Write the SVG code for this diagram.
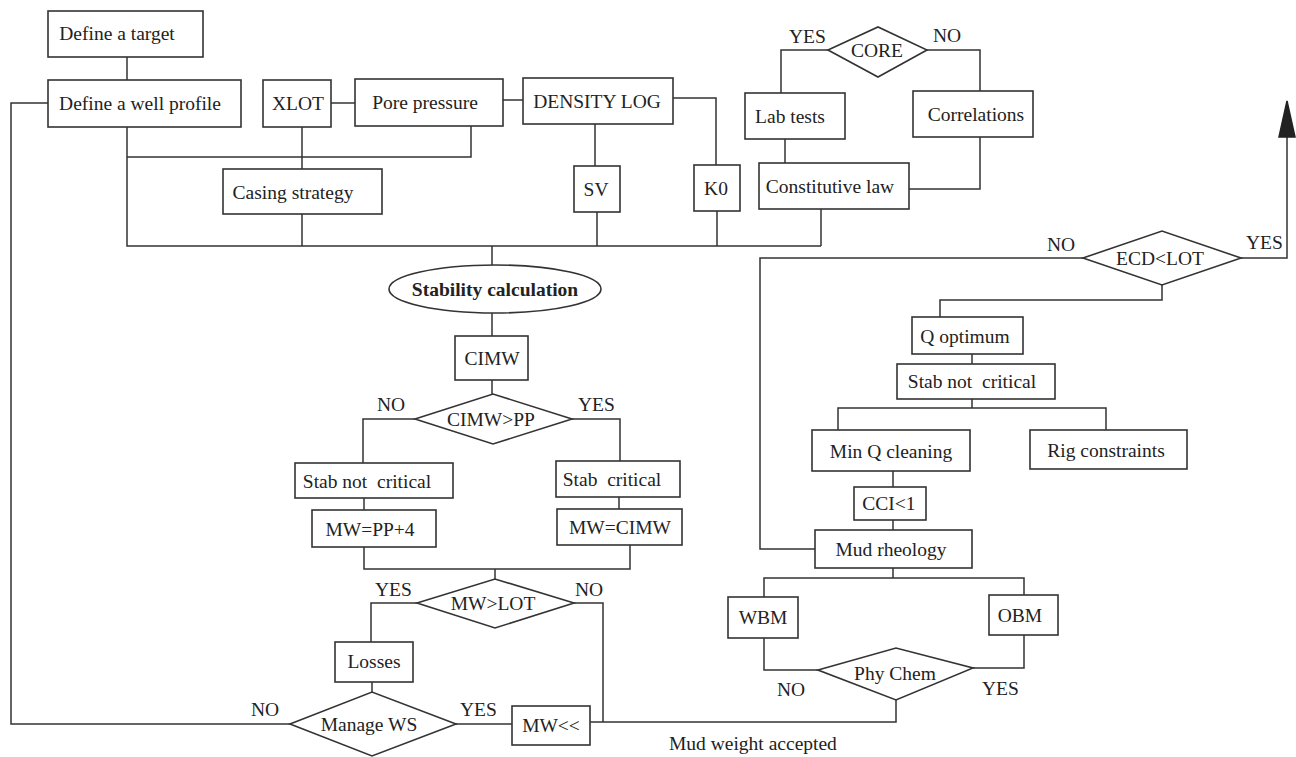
<svg xmlns="http://www.w3.org/2000/svg" width="1296" height="757" viewBox="0 0 1296 757">
<style>
.b{fill:#fff;stroke:#333;stroke-width:1.6}
.c{fill:none;stroke:#333;stroke-width:1.5}
text{font-family:"Liberation Serif","Times New Roman",serif;font-size:19.5px;fill:#222}
.m{text-anchor:middle}
.bold{font-weight:bold}
.p{white-space:pre}
</style>
<rect width="1296" height="757" fill="#fff"/>
<g id="connectors" class="c">
<path d="M127,57V80"/>
<path d="M48,103H11V724H290"/>
<path d="M331,103H355"/>
<path d="M503,100H523"/>
<path d="M127,127V246H821"/>
<path d="M127,157H471V126"/>
<path d="M302,127V169"/>
<path d="M302,214V246"/>
<path d="M595,124V166"/>
<path d="M597,212V246"/>
<path d="M673,98H716V165"/>
<path d="M717,211V246"/>
<path d="M821,209V246"/>
<path d="M828,50H781V93"/>
<path d="M927,50H980V91"/>
<path d="M785,139V163"/>
<path d="M980,137V189H909"/>
<path d="M492,246V265"/>
<path d="M492,313V336"/>
<path d="M492,380V394"/>
<path d="M415,419H363V463"/>
<path d="M572,419H620V461"/>
<path d="M364,498V510"/>
<path d="M619,497V509"/>
<path d="M364,547V569H630V545"/>
<path d="M495,569V579"/>
<path d="M417,603H371V642"/>
<path d="M574,603H603V722"/>
<path d="M372,682V692"/>
<path d="M456,724H512"/>
<path d="M590,722H896V700"/>
<path d="M1241,258H1287V125"/>
<path d="M1083,258H760V549H815"/>
<path d="M1162,285V300H940V317"/>
<path d="M972,354V364"/>
<path d="M972,399V408"/>
<path d="M838,430V408H1106V430"/>
<path d="M893,471V487"/>
<path d="M893,520V530"/>
<path d="M893,568V578"/>
<path d="M764,597V578H1024V595"/>
<path d="M764,638V670H818"/>
<path d="M1024,635V668H973"/>
<path d="M1279,137L1287,101L1295,137Z" fill="#222" stroke="#222"/>
</g>
<g id="n_target"><rect class="b" x="48" y="11" width="155" height="46"/><text class="m" x="117" y="40">Define a target</text></g>
<g id="n_profile"><rect class="b" x="48" y="80" width="193" height="47"/><text class="m" x="140" y="110">Define a well profile</text></g>
<g id="n_xlot"><rect class="b" x="263" y="80" width="68" height="47"/><text class="m" x="298" y="110">XLOT</text></g>
<g id="n_pore"><rect class="b" x="355" y="79" width="148" height="47"/><text class="m" x="425" y="109">Pore pressure</text></g>
<g id="n_density"><rect class="b" x="523" y="78" width="150" height="46"/><text class="m" x="597" y="108">DENSITY LOG</text></g>
<g id="n_core"><polygon class="b" points="828,50 878,27 927,50 878,77"/><text class="m" x="877" y="57">CORE</text></g>
<text x="789" y="43">YES</text>
<text x="933" y="42">NO</text>
<g id="n_lab"><rect class="b" x="745" y="93" width="100" height="46"/><text class="m" x="790" y="123">Lab tests</text></g>
<g id="n_corr"><rect class="b" x="913" y="91" width="120" height="46"/><text class="m" x="976" y="121">Correlations</text></g>
<g id="n_const"><rect class="b" x="759" y="163" width="150" height="46"/><text class="m" x="830" y="193">Constitutive law</text></g>
<g id="n_sv"><rect class="b" x="574" y="166" width="46" height="46"/><text class="m" x="596" y="196">SV</text></g>
<g id="n_k0"><rect class="b" x="694" y="165" width="46" height="46"/><text class="m" x="716" y="195">K0</text></g>
<g id="n_casing"><rect class="b" x="223" y="169" width="159" height="45"/><text class="m" x="293" y="199">Casing strategy</text></g>
<g id="n_stab"><ellipse class="b" cx="495" cy="289" rx="106" ry="24"/><text class="m bold" x="495" y="296">Stability calculation</text></g>
<g id="n_cimw"><rect class="b" x="455" y="336" width="73" height="44"/><text class="m" x="492" y="365">CIMW</text></g>
<g id="n_cimwpp"><polygon class="b" points="415,419 493,394 572,419 493,444"/><text class="m" x="491" y="426">CIMW&gt;PP</text></g>
<text x="377" y="411">NO</text>
<text x="578" y="411">YES</text>
<g id="n_snc1"><rect class="b" x="295" y="463" width="158" height="35"/><text class="m p" x="367" y="488">Stab not  critical</text></g>
<g id="n_sc"><rect class="b" x="556" y="461" width="124" height="36"/><text class="m p" x="612" y="486">Stab  critical</text></g>
<g id="n_mwpp"><rect class="b" x="312" y="510" width="124" height="37"/><text class="m" x="370" y="536">MW=PP+4</text></g>
<g id="n_mwcimw"><rect class="b" x="557" y="509" width="125" height="36"/><text class="m" x="620" y="534">MW=CIMW</text></g>
<g id="n_mwlot"><polygon class="b" points="417,603 495,579 574,603 495,628"/><text class="m" x="493" y="610">MW&gt;LOT</text></g>
<text x="375" y="596">YES</text>
<text x="575" y="596">NO</text>
<g id="n_losses"><rect class="b" x="335" y="642" width="78" height="40"/><text class="m" x="374" y="668">Losses</text></g>
<g id="n_manage"><polygon class="b" points="290,724 372,692 456,724 372,756"/><text class="m" x="369" y="731">Manage WS</text></g>
<text x="251" y="716">NO</text>
<text x="460" y="716">YES</text>
<g id="n_mwll"><rect class="b" x="512" y="706" width="78" height="39"/><text class="m" x="551" y="732">MW&lt;&lt;</text></g>
<text x="669" y="750">Mud weight accepted</text>
<g id="n_ecd"><polygon class="b" points="1083,258 1162,231 1241,258 1162,285"/><text class="m" x="1160" y="265">ECD&lt;LOT</text></g>
<text x="1047" y="251">NO</text>
<text x="1246" y="249">YES</text>
<g id="n_qopt"><rect class="b" x="912" y="317" width="111" height="37"/><text class="m" x="965" y="343">Q optimum</text></g>
<g id="n_snc2"><rect class="b" x="897" y="364" width="158" height="35"/><text class="m p" x="972" y="388">Stab not  critical</text></g>
<g id="n_minq"><rect class="b" x="812" y="430" width="158" height="41"/><text class="m" x="891" y="458">Min Q cleaning</text></g>
<g id="n_rig"><rect class="b" x="1030" y="430" width="157" height="39"/><text class="m" x="1106" y="457">Rig constraints</text></g>
<g id="n_cci"><rect class="b" x="854" y="487" width="72" height="33"/><text class="m" x="889" y="510">CCI&lt;1</text></g>
<g id="n_mud"><rect class="b" x="815" y="530" width="157" height="38"/><text class="m" x="891" y="556">Mud rheology</text></g>
<g id="n_wbm"><rect class="b" x="728" y="597" width="70" height="41"/><text class="m" x="763" y="624">WBM</text></g>
<g id="n_obm"><rect class="b" x="989" y="595" width="69" height="40"/><text class="m" x="1020" y="622">OBM</text></g>
<g id="n_phy"><polygon class="b" points="818,670 896,648 973,668 896,700"/><text class="m" x="895" y="680">Phy Chem</text></g>
<text x="777" y="696">NO</text>
<text x="982" y="695">YES</text>
</svg>
